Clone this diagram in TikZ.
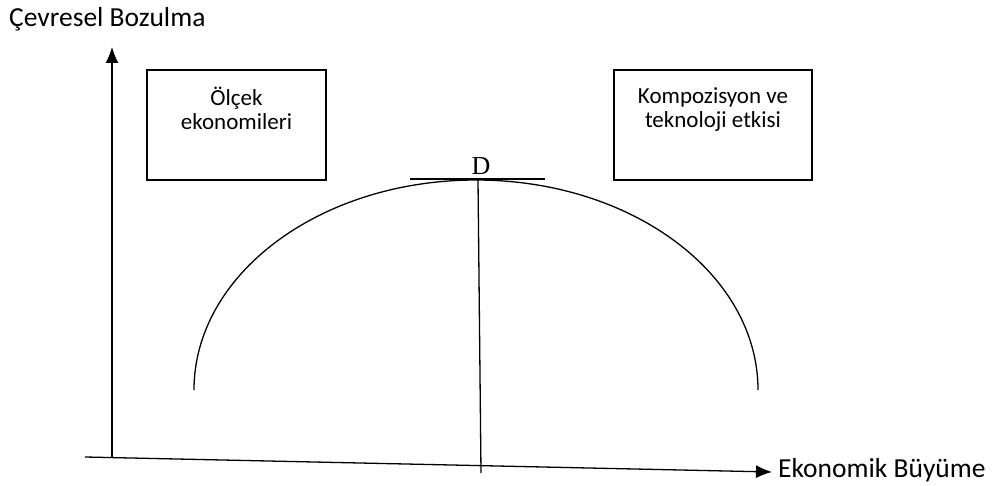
\documentclass[tikz,border=0pt]{standalone}
\usepackage{fontspec}
\setmainfont{Carlito}
\newfontfamily\harfD{Liberation Serif}
\usetikzlibrary{arrows.meta,positioning}

\tikzset{
  eksen/.style={line width=1.3pt, -{Latex[length=16pt,width=13pt]}},
  kutu/.style={draw, line width=1.7pt, minimum height=110pt, inner sep=0pt},
  kutuyazi/.style={align=center, inner sep=0pt, font=\fontsize{23}{24}\selectfont},
  eksenyazi/.style={anchor=base west, inner sep=0pt, font=\fontsize{27.5}{30}\selectfont},
}

\begin{document}
\begin{tikzpicture}[x=1pt,y=1pt]
  \useasboundingbox (0,0) rectangle (998,485);
  % eksenler
  \coordinate (O) at (112,28);
  \coordinate (Y) at (112,438);
  \coordinate (X0) at (85,28);
  \coordinate (X) at (772,13);
  \draw[eksen] (O) -- (Y);
  \draw[eksen] (X0) -- (X);
  \node[eksenyazi] (ybaslik) at (9,458) {Çevresel Bozulma};
  \node[eksenyazi] (xbaslik) at (778,8) {Ekonomik Büyüme};
  % kutular
  \node[kutu, minimum width=179pt] (olcek) at (236.5,360) {};
  \node[kutuyazi, below=18pt of olcek.north] (olcekyazi) {Ölçek\\ekonomileri};
  \node[kutu, minimum width=198pt] (kompoz) at (713,360) {};
  \node[kutuyazi, below=18pt of kompoz.north] (kompozyazi) {Kompozisyon ve\\teknoloji etkisi};
  % egri ve tepe noktasi
  \draw[line width=1.3pt] (194,95) arc[start angle=180, end angle=0, x radius=282, y radius=210];
  \coordinate (T) at (478,305);
  \coordinate (Tsol) at (410,306);
  \coordinate (Tsag) at (545,306);
  \coordinate (Talt) at (481,12);
  \draw[line width=1.3pt] (Tsol) -- (Tsag);
  \draw[line width=1.3pt] (T) -- (Talt);
  \node[anchor=base, inner sep=0pt, font=\harfD\fontsize{26}{26}\selectfont] (D) at (481,310) {D};
\end{tikzpicture}
\end{document}
